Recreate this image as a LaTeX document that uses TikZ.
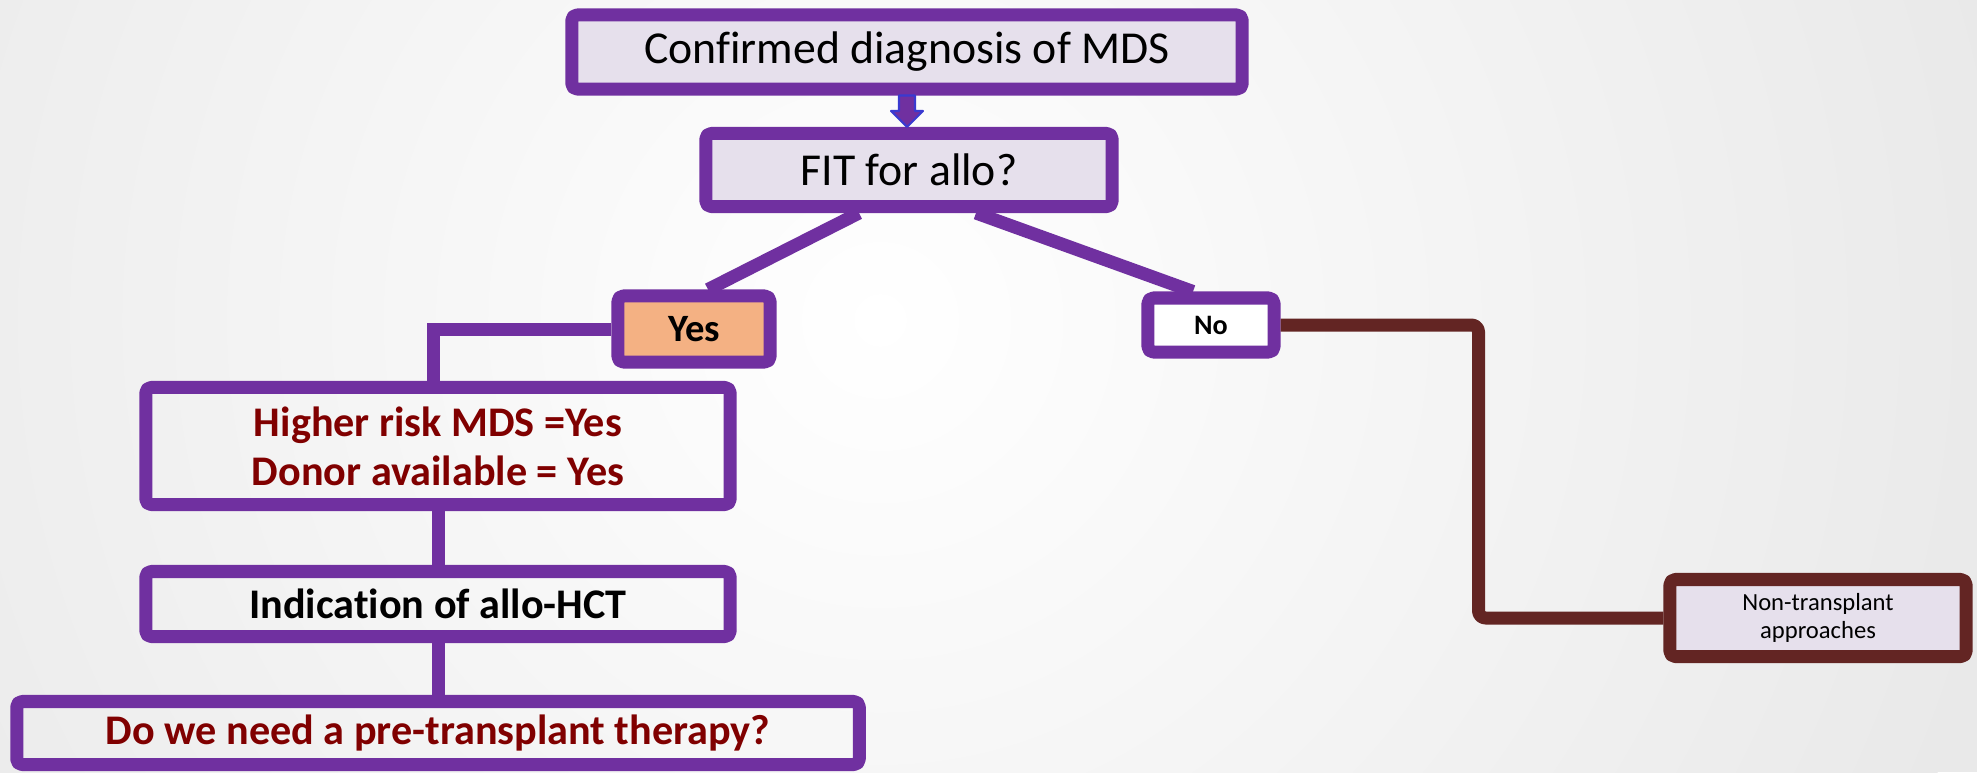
\documentclass[tikz,border=0pt]{standalone}
\usepackage{fontspec}
\setmainfont{Carlito}[Ligatures=NoCommon]
\usetikzlibrary{calc, positioning}

\definecolor{boxpurple}{HTML}{7030A0}
\definecolor{boxlav}{HTML}{E6E0EC}
\definecolor{yesfill}{HTML}{F4B183}
\definecolor{linkbrown}{HTML}{632523}
\definecolor{darkred}{HTML}{800000}
\definecolor{arrowblue}{HTML}{3A3AD0}
\definecolor{bggray}{HTML}{E9E9E9}

\pgfdeclarelayer{bg}
\pgfdeclarelayer{links}
\pgfsetlayers{bg,links,main}

\tikzset{
  flowbox/.style={draw=boxpurple, line width=0.13cm, rounded corners=1.5pt,
    inner sep=0pt, align=center},
  link/.style={draw=boxpurple, line width=0.13cm},
  nolink/.style={draw=linkbrown, line width=0.13cm, rounded corners=2pt},
  downarrow/.style={draw=arrowblue, fill=boxpurple, line width=0.6pt},
  bigtext/.style={font=\fontsize{13}{15}\selectfont},
  boldtext/.style={font=\fontsize{12}{14}\selectfont\bfseries},
}

\begin{document}
\begin{tikzpicture}[x=0.01cm,y=-0.01cm,line join=round]
\path[use as bounding box] (0,0) rectangle (1977,772);
\begin{pgfonlayer}{bg}
\fill[bggray] (0,0) rectangle (1977,772);
\clip (0,0) rectangle (1977,772);
\shade[inner color=white, outer color=bggray] (880,320) circle (1150);
\end{pgfonlayer}

\node[flowbox, bigtext, fill=boxlav, minimum width=6.70cm, minimum height=0.74cm]
  (diag) at (907,52) {Confirmed diagnosis of MDS};
\node[flowbox, bigtext, fill=boxlav, minimum width=4.06cm, minimum height=0.73cm]
  (fit) at (909,170) {FIT for allo?};
\node[flowbox, fill=yesfill, minimum width=1.52cm, minimum height=0.66cm,
  font=\fontsize{11}{13}\selectfont\bfseries] (yes) at (694,329) {Yes};
\node[flowbox, fill=white, minimum width=1.26cm, minimum height=0.54cm,
  font=\fontsize{8}{10}\selectfont\bfseries] (no) at (1211,325) {No};
\node[flowbox, boldtext, text=darkred, minimum width=5.84cm, minimum height=1.17cm]
  (risk) at (438,446) {Higher risk MDS =Yes\\Donor available = Yes};
\node[flowbox, boldtext, minimum width=5.84cm, minimum height=0.65cm]
  (hct) at (438,604) {Indication of allo-HCT};
\node[flowbox, boldtext, text=darkred, minimum width=8.42cm, minimum height=0.63cm]
  (pre) at (438,733) {Do we need a pre-transplant therapy?};
\node[flowbox, draw=linkbrown, fill=boxlav, minimum width=2.96cm, minimum height=0.77cm,
  font=\fontsize{7}{8}\selectfont] (non) at (1818,618) {Non-transplant\\approaches};

\begin{pgfonlayer}{links}
\draw[link] ($(fit.south)+(-50,0)$) -- ($(yes.north)+(14,0)$);
\draw[link] ($(fit.south)+(67,0)$) -- ($(no.north)+(-18,0)$);
\draw[link] (yes.west) -| ($(risk.north)+(-5,0)$);
\draw[link] (risk.south) -- (hct.north);
\draw[link] (hct.south) -- (pre.north);
\end{pgfonlayer}
\draw[nolink] (no.east) -- ++(198,0) |- (non.west);

\draw[downarrow] ($(diag.south)+(-8,0)$) -- ($(diag.south |- fit.north)+(-8,-16)$)
  -- ($(diag.south |- fit.north)+(-16,-16)$) -- (diag.south |- fit.north)
  -- ($(diag.south |- fit.north)+(16,-16)$) -- ($(diag.south |- fit.north)+(8,-16)$)
  -- ($(diag.south)+(8,0)$) -- cycle;
\end{tikzpicture}
\end{document}
